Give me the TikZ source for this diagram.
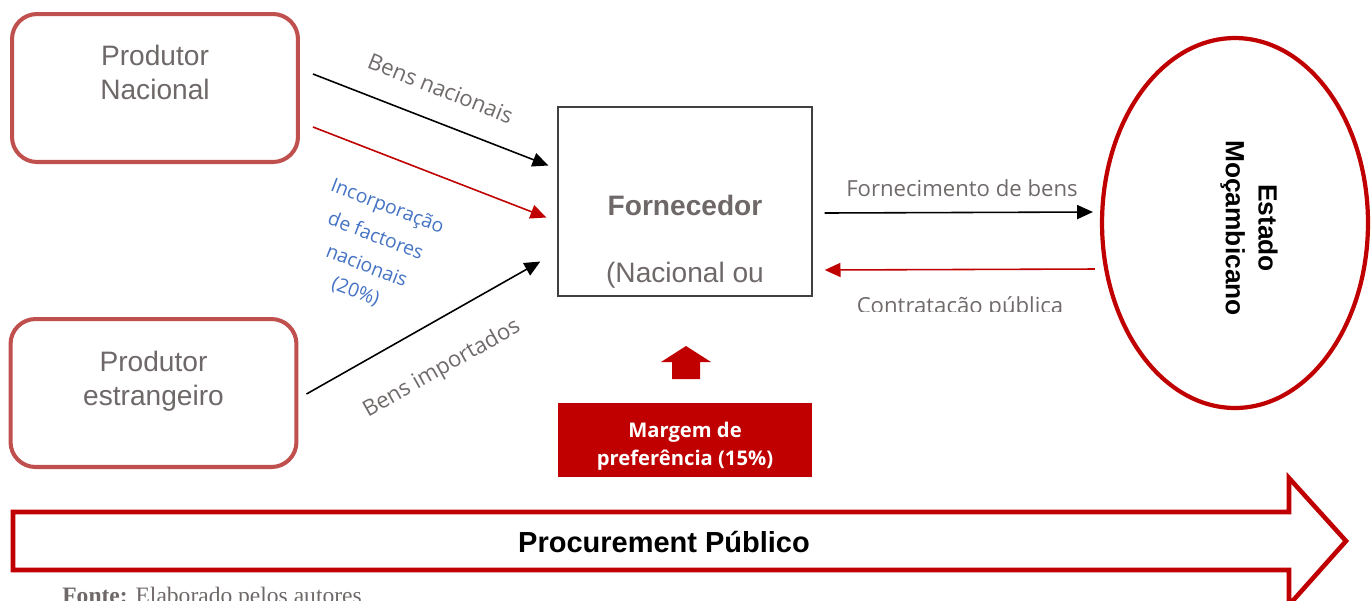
\documentclass[tikz,border=0pt]{standalone}
\usepackage{fontspec}
\setmainfont{Liberation Sans}
\newfontfamily\segoe{Open Sans}
\newfontfamily\timesf{Liberation Serif}
\usepackage{tikz}
\usetikzlibrary{shapes,arrows.meta,positioning,calc}
\definecolor{boxred}{RGB}{192,80,77}
\definecolor{darkred}{RGB}{192,0,0}
\definecolor{txtgray}{RGB}{110,104,104}
\definecolor{lblgray}{RGB}{112,106,106}
\definecolor{lblblue}{RGB}{68,114,196}

\begin{document}
\begin{tikzpicture}[x=0.02cm,y=-0.02cm,
        prodbox/.style={draw=boxred, fill=white, line width=2.3pt, rounded corners=0.5cm,
                        minimum width=5.72cm, minimum height=2.96cm},
        bigtxt/.style={text=txtgray, align=center, font=\fontsize{16}{19.3}\selectfont},
        lbl/.style={text=lblgray, inner sep=0pt, font=\segoe\fontsize{12.6}{15}\selectfont},
        inc/.style={text=lblblue, inner sep=0pt, anchor=west, rotate=-21,
                    font=\segoe\fontsize{11}{13}\selectfont},
        arr/.style={line width=0.9pt, -{Triangle[length=9pt,width=8pt]}}]
    \useasboundingbox (0,0) rectangle (1371,600);
    \node[prodbox] (pn) at (155,88) {};
    \node[prodbox] (pe) at (153.5,393) {};
    \node[bigtxt] (pntxt) at ([shift={(0,-16)}]pn.center) {Produtor\\Nacional};
    \node[bigtxt] (petxt) at ([shift={(0,-12)}]pe.center) {Produtor\\estrangeiro};
    \node[draw=black!75, line width=0.8pt, minimum width=5.08cm, minimum height=3.78cm] (forn) at (685,201.5) {};
    \node[bigtxt, anchor=base, font=\bfseries\fontsize{16}{19.3}\selectfont] (forntxt) at (685,215) {Fornecedor};
    \node[bigtxt, anchor=base] (forntxt2) at (685,282) {(Nacional ou};
    \node[draw=darkred, ellipse, line width=2.4pt, minimum width=5.32cm, minimum height=7.4cm] (est) at (1235,223) {};
    \node[rotate=-90, align=center, font=\bfseries\fontsize{15}{18.7}\selectfont] (esttxt) at (1249,228) {Estado\\Moçambicano};
    \draw[arr] ([shift={(13,-14)}]pn.east) -- ([shift={(-9,-36)}]forn.west);
    \draw[arr, darkred] ([shift={(13,39)}]pn.east) -- ([shift={(-11,16)}]forn.west);
    \draw[arr] ([shift={(8,1)}]pe.east) -- ([shift={(-17,60)}]forn.west);
    \draw[arr] ([shift={(12,11.5)}]forn.east) -- ([shift={(-7,-11)}]est.west);
    \draw[arr, darkred] ([shift={(-5,46)}]est.west) -- ([shift={(12,68.5)}]forn.east);
    \node[lbl, rotate=-21.8] (lbnac) at (440.6,88.5) {Bens nacionais};
    \node[lbl, rotate=29.5] (lbimp) at (442,369) {Bens importados};
    \node[lbl] (lbforn) at (962,188) {Fornecimento de bens};
    \begin{scope}
        \clip (820,280) rectangle (1100,311);
        \node[lbl, anchor=base] (lbcontr) at (960,313) {Contratação pública};
    \end{scope}
    \node[inc] (inc1) at (331,186) {Incorporação};
    \node[inc] (inc2) at (329,217) {de factores};
    \node[inc] (inc3) at (327,250) {nacionais};
    \node[inc] (inc4) at (332,283) {(20\%)};
    \fill[darkred] (686,346) -- (711,362) -- (700,362) -- (700,379) -- (672,379) -- (672,362) -- (661,362) -- cycle;
    \node[fill=darkred, minimum width=5.08cm, minimum height=1.48cm] (margem) at (685,440) {};
    \node[text=white, align=center, font=\segoe\bfseries\fontsize{11.5}{16}\selectfont] (margemtxt)
        at (685,446) {Margem de\\preferência (15\%)};
    \draw[darkred, fill=white, line width=2.6pt] (13,512) -- (1289,512) -- (1289,478) -- (1346,541)
        -- (1289,605) -- (1289,570) -- (13,570) -- cycle;
    \node[font=\bfseries\fontsize{16.5}{20}\selectfont] (proc) at (664,542) {Procurement Público};
    \node[anchor=base west, inner sep=0pt, text=txtgray, font=\timesf\fontsize{13.4}{16}\selectfont] (fonte)
        at (62,603.5) {\textbf{Fonte:} Elaborado pelos autores};
\end{tikzpicture}
\end{document}
